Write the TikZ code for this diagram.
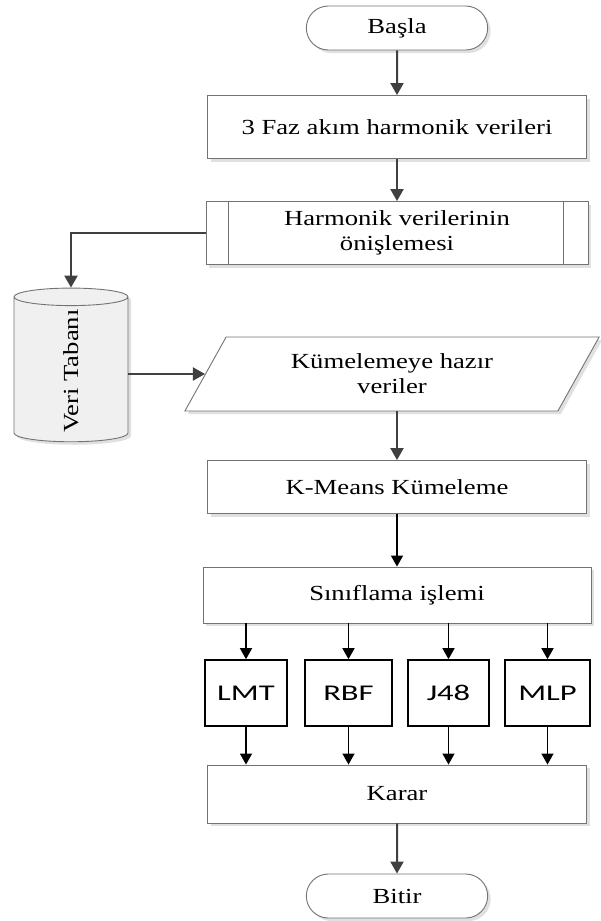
\documentclass[tikz,border=0pt]{standalone}
\usepackage{fontspec}
\setmainfont{Liberation Serif}[FakeStretch=1.24]
\newfontfamily\boxfont{Carlito}[FakeStretch=1.45]
\usetikzlibrary{shapes.geometric,shapes.misc,arrows.meta,shadows}

\begin{document}
\begin{tikzpicture}[x=1pt, y=-1pt, font=\fontsize{21.5}{25}\selectfont,
  shade/.style={drop shadow={shadow xshift=3pt, shadow yshift=-3pt, fill=black!35, opacity=.35}},
  box/.style={draw=black!55, line width=.9pt, fill=white, shade, align=center, minimum width=379pt, minimum height=60pt},
  term/.style={rounded rectangle, draw=black!55, line width=.9pt, fill=white, shade, minimum width=188pt, minimum height=44pt},
  io/.style={trapezium, trapezium left angle=61, trapezium right angle=119, trapezium stretches=true, draw=black!55, line width=.9pt, fill=white, shade, align=center, minimum width=415pt, minimum height=74pt},
  db/.style={cylinder, rotate=90, aspect=.8, draw=black!55, line width=.9pt, fill=black!6, shade, minimum width=114pt, minimum height=147pt},
  algo/.style={draw=black, line width=1.6pt, fill=white, minimum width=82pt, minimum height=66pt, font=\boxfont\fontsize{22.5}{27}\selectfont},
  flow/.style={draw=black!75, line width=2pt, -{Triangle[length=12pt,width=13pt]}},
  link/.style={draw=black, line width=1.4pt, -{Triangle[length=11pt,width=12pt]}}]

\useasboundingbox (0,0) rectangle (601,921);

\node[term] (start) at (397,28) {Başla};
\node[box, minimum height=63pt] (faz) at (397,127) {3 Faz akım harmonik verileri};
\node[box, minimum width=382pt, minimum height=63pt] (onis) at (397,233) {Harmonik verilerinin\\önişlemesi};
\draw[draw=black!55, line width=.9pt] ([xshift=23pt]onis.north west) -- ([xshift=23pt]onis.south west)
  ([xshift=-25pt]onis.north east) -- ([xshift=-25pt]onis.south east);

\node[db] (vt) at (71,371) {Veri Tabanı};
\node[io] (hazir) at (392,374) {Kümelemeye hazır\\veriler};

\node[box, minimum height=53pt] (kmeans) at (397,487) {K-Means Kümeleme};
\node[box, minimum width=388pt, minimum height=56pt] (sinif) at (397,595) {Sınıflama işlemi};

\node[algo] (lmt) at (246,693) {LMT};
\node[algo, minimum width=87pt] (rbf) at (348.5,693) {RBF};
\node[algo, minimum width=81pt] (j48) at (448.5,693) {J48};
\node[algo, minimum width=85pt] (mlp) at (547.5,693) {MLP};

\node[box, minimum height=58pt] (karar) at (397,794) {Karar};
\node[term] (bitir) at (397,896) {Bitir};

% akis oklari
\draw[flow] (start) -- (faz);
\draw[flow] (faz) -- (onis);
\draw[flow] (onis.west) -| (vt.east);
\draw[flow] (vt.south |- hazir.west) -- (hazir.west);
\draw[flow] (kmeans |- hazir.south) -- (kmeans);
\draw[link] (kmeans) -- (sinif);
\foreach \m in {lmt,rbf,j48,mlp}{
  \draw[link] (\m |- sinif.south) -- (\m);
  \draw[link] (\m) -- (\m |- karar.north);
}
\draw[flow] (karar) -- (bitir);

\end{tikzpicture}
\end{document}
